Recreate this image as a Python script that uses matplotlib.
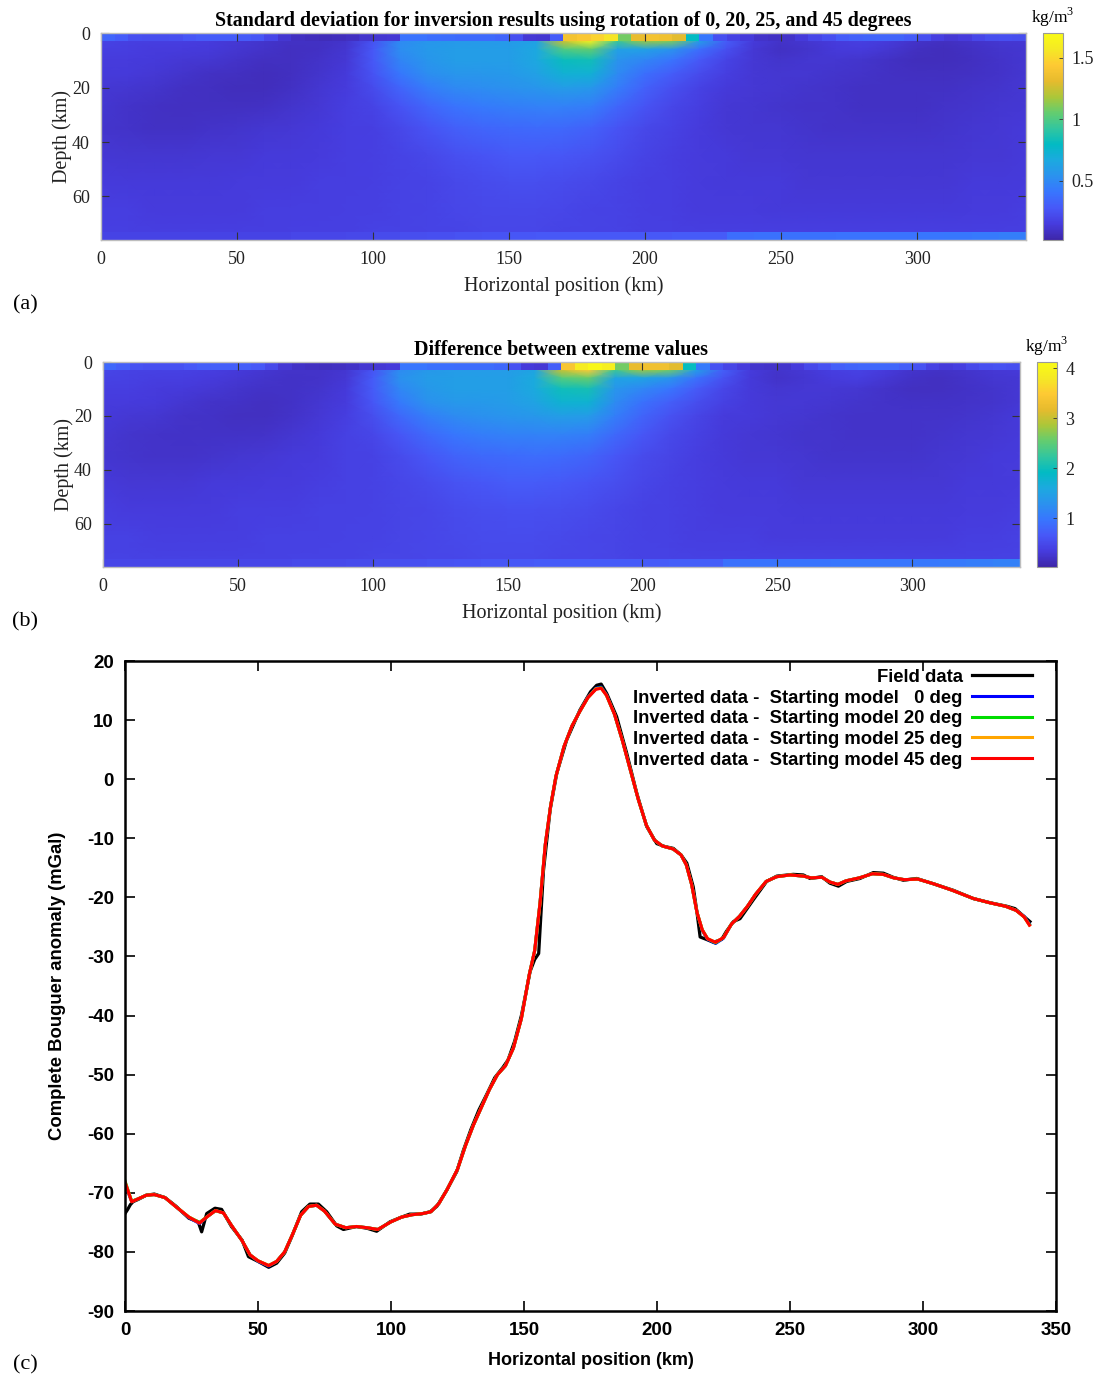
import numpy as np
import matplotlib
matplotlib.use('Agg')
import matplotlib.pyplot as plt
from matplotlib.colors import LinearSegmentedColormap

plt.rcParams['axes.unicode_minus'] = False

# parula colour table (sampled)
parula = LinearSegmentedColormap.from_list('parula', [
    (0.2422, 0.1504, 0.6603), (0.2751, 0.2342, 0.8710), (0.2795, 0.3447, 0.9717),
    (0.2206, 0.4603, 0.9973), (0.1687, 0.5703, 0.9359), (0.1113, 0.6635, 0.8763),
    (0.0067, 0.7312, 0.7660), (0.1938, 0.7758, 0.6251), (0.3909, 0.8029, 0.4354),
    (0.6720, 0.7793, 0.2227), (0.9035, 0.7330, 0.1774), (0.9952, 0.7893, 0.2028),
    (0.9597, 0.9135, 0.1423), (0.9769, 0.9839, 0.0805)])

# model grid (km)
x_nodes = np.arange(0, 341, 10)
depth_nodes = [3, 6, 10, 15, 20, 27, 35, 45, 55, 65, 73]
top_edges = np.arange(0, 346, 5)
bottom_edges = np.arange(0, 351, 10)

# standard deviation (kg/m3)
std_top = [0.34, 0.30, 0.24, 0.23, 0.23, 0.24, 0.27, 0.29, 0.30, 0.30, 0.29, 0.27, 0.20, 0.12, 0.08, 0.07, 0.06,
           0.07, 0.08, 0.11, 0.12, 0.13, 0.40, 0.40, 0.38, 0.37, 0.36, 0.36, 0.36, 0.34, 0.24, 0.13, 0.12, 0.30,
           1.38, 1.42, 1.48, 1.55, 1.08, 1.32, 1.38, 1.36, 1.30, 0.80, 0.42, 0.24, 0.18, 0.14, 0.10, 0.09, 0.10,
           0.14, 0.20, 0.24, 0.30, 0.32, 0.33, 0.34, 0.33, 0.30, 0.24, 0.16, 0.13, 0.15, 0.20, 0.23, 0.24, 0.23, 0.22]
std_body = [
    [0.19, 0.17, 0.16, 0.16, 0.15, 0.13, 0.11, 0.09, 0.09, 0.11, 0.25, 0.50, 0.56, 0.58, 0.58, 0.58, 0.62, 1.25,
     1.62, 0.95, 1.15, 1.10, 0.60, 0.30, 0.14, 0.10, 0.12, 0.15, 0.17, 0.14, 0.10, 0.08, 0.10, 0.12, 0.13],
    [0.17, 0.16, 0.15, 0.15, 0.14, 0.12, 0.10, 0.08, 0.09, 0.12, 0.28, 0.52, 0.58, 0.60, 0.60, 0.60, 0.66, 1.00,
     1.05, 0.62, 0.62, 0.55, 0.38, 0.24, 0.13, 0.09, 0.11, 0.14, 0.15, 0.12, 0.08, 0.07, 0.09, 0.11, 0.12],
    [0.15, 0.15, 0.14, 0.13, 0.12, 0.10, 0.08, 0.08, 0.10, 0.13, 0.28, 0.48, 0.56, 0.60, 0.60, 0.60, 0.66, 0.82,
     0.84, 0.55, 0.48, 0.40, 0.28, 0.19, 0.13, 0.11, 0.12, 0.12, 0.11, 0.09, 0.07, 0.07, 0.08, 0.10, 0.12],
    [0.14, 0.14, 0.13, 0.11, 0.09, 0.08, 0.07, 0.08, 0.11, 0.14, 0.26, 0.42, 0.52, 0.56, 0.57, 0.58, 0.62, 0.72,
     0.72, 0.50, 0.38, 0.30, 0.22, 0.16, 0.13, 0.12, 0.12, 0.11, 0.10, 0.09, 0.08, 0.08, 0.09, 0.10, 0.12],
    [0.13, 0.12, 0.11, 0.09, 0.08, 0.07, 0.07, 0.09, 0.12, 0.15, 0.22, 0.34, 0.44, 0.50, 0.52, 0.54, 0.56, 0.60,
     0.58, 0.44, 0.32, 0.24, 0.18, 0.14, 0.13, 0.12, 0.11, 0.10, 0.09, 0.09, 0.09, 0.09, 0.10, 0.11, 0.13],
    [0.12, 0.10, 0.09, 0.08, 0.08, 0.08, 0.09, 0.11, 0.13, 0.16, 0.19, 0.26, 0.34, 0.40, 0.43, 0.45, 0.46, 0.46,
     0.44, 0.34, 0.26, 0.20, 0.16, 0.13, 0.12, 0.11, 0.10, 0.10, 0.09, 0.09, 0.09, 0.10, 0.11, 0.12, 0.13],
    [0.11, 0.10, 0.09, 0.09, 0.10, 0.11, 0.12, 0.13, 0.14, 0.16, 0.17, 0.21, 0.26, 0.31, 0.34, 0.35, 0.36, 0.35,
     0.32, 0.26, 0.21, 0.18, 0.15, 0.13, 0.12, 0.12, 0.11, 0.10, 0.10, 0.10, 0.10, 0.11, 0.12, 0.13, 0.14],
    [0.13, 0.12, 0.12, 0.12, 0.13, 0.13, 0.14, 0.14, 0.15, 0.16, 0.17, 0.19, 0.21, 0.24, 0.26, 0.28, 0.28, 0.27,
     0.25, 0.22, 0.19, 0.16, 0.15, 0.14, 0.13, 0.13, 0.12, 0.12, 0.12, 0.12, 0.12, 0.12, 0.13, 0.13, 0.14],
    [0.15, 0.14, 0.14, 0.14, 0.14, 0.15, 0.15, 0.15, 0.16, 0.16, 0.17, 0.18, 0.19, 0.21, 0.22, 0.23, 0.23, 0.22,
     0.21, 0.19, 0.17, 0.16, 0.15, 0.14, 0.14, 0.14, 0.13, 0.13, 0.13, 0.13, 0.13, 0.13, 0.14, 0.14, 0.15],
    [0.16, 0.16, 0.15, 0.15, 0.15, 0.15, 0.16, 0.16, 0.16, 0.17, 0.17, 0.18, 0.19, 0.20, 0.21, 0.21, 0.21, 0.20,
     0.19, 0.18, 0.17, 0.16, 0.15, 0.15, 0.15, 0.14, 0.14, 0.14, 0.14, 0.14, 0.14, 0.14, 0.15, 0.15, 0.16],
    [0.17, 0.17, 0.16, 0.16, 0.16, 0.16, 0.16, 0.17, 0.17, 0.17, 0.18, 0.18, 0.19, 0.19, 0.20, 0.20, 0.20, 0.19,
     0.19, 0.18, 0.17, 0.17, 0.16, 0.16, 0.16, 0.16, 0.16, 0.16, 0.16, 0.16, 0.16, 0.16, 0.16, 0.16, 0.17],
]
std_bottom = [0.19, 0.19, 0.19, 0.19, 0.19, 0.19, 0.19, 0.20, 0.20, 0.21, 0.22, 0.23, 0.24, 0.25, 0.26, 0.27, 0.28,
              0.28, 0.28, 0.28, 0.28, 0.29, 0.29, 0.38, 0.39, 0.39, 0.39, 0.40, 0.40, 0.40, 0.41, 0.42, 0.43, 0.45, 0.48]

# difference between extreme values (kg/m3)
diff_top = [0.83, 0.73, 0.59, 0.56, 0.56, 0.59, 0.66, 0.71, 0.73, 0.73, 0.71, 0.66, 0.49, 0.29, 0.20, 0.17, 0.15,
            0.17, 0.20, 0.27, 0.29, 0.32, 0.98, 0.98, 0.93, 0.90, 0.88, 0.88, 0.88, 0.83, 0.59, 0.32, 0.29, 0.73,
            3.40, 3.85, 4.05, 3.90, 2.60, 3.20, 3.30, 3.30, 3.15, 1.95, 1.02, 0.59, 0.44, 0.34, 0.24, 0.22, 0.24,
            0.34, 0.49, 0.59, 0.73, 0.78, 0.81, 0.83, 0.81, 0.73, 0.59, 0.39, 0.32, 0.37, 0.49, 0.56, 0.59, 0.56, 0.54]
diff_body = [
    [0.46, 0.41, 0.39, 0.39, 0.37, 0.32, 0.27, 0.22, 0.22, 0.27, 0.61, 1.22, 1.37, 1.42, 1.42, 1.42, 1.51, 3.00,
     3.50, 2.30, 2.80, 2.60, 1.46, 0.73, 0.34, 0.24, 0.29, 0.37, 0.41, 0.34, 0.24, 0.20, 0.24, 0.29, 0.32],
    [0.41, 0.39, 0.37, 0.37, 0.34, 0.29, 0.24, 0.20, 0.22, 0.29, 0.68, 1.27, 1.42, 1.46, 1.46, 1.46, 1.61, 2.44,
     2.56, 1.51, 1.51, 1.34, 0.93, 0.59, 0.32, 0.22, 0.27, 0.34, 0.37, 0.29, 0.20, 0.17, 0.22, 0.27, 0.29],
    [0.37, 0.37, 0.34, 0.32, 0.29, 0.24, 0.20, 0.20, 0.24, 0.32, 0.68, 1.17, 1.37, 1.46, 1.46, 1.46, 1.61, 2.00,
     2.05, 1.34, 1.17, 0.98, 0.68, 0.46, 0.32, 0.27, 0.29, 0.29, 0.27, 0.22, 0.17, 0.17, 0.20, 0.24, 0.29],
    [0.34, 0.34, 0.32, 0.27, 0.22, 0.20, 0.17, 0.20, 0.27, 0.34, 0.63, 1.02, 1.27, 1.37, 1.39, 1.42, 1.51, 1.76,
     1.76, 1.22, 0.93, 0.73, 0.54, 0.39, 0.32, 0.29, 0.29, 0.27, 0.24, 0.22, 0.20, 0.20, 0.22, 0.24, 0.29],
    [0.32, 0.29, 0.27, 0.22, 0.20, 0.17, 0.17, 0.22, 0.29, 0.37, 0.54, 0.83, 1.07, 1.22, 1.27, 1.32, 1.37, 1.46,
     1.42, 1.07, 0.78, 0.59, 0.44, 0.34, 0.32, 0.29, 0.27, 0.24, 0.22, 0.22, 0.22, 0.22, 0.24, 0.27, 0.32],
    [0.29, 0.24, 0.22, 0.20, 0.20, 0.20, 0.22, 0.27, 0.32, 0.39, 0.46, 0.63, 0.83, 0.98, 1.05, 1.10, 1.12, 1.12,
     1.07, 0.83, 0.63, 0.49, 0.39, 0.32, 0.29, 0.27, 0.24, 0.24, 0.22, 0.22, 0.22, 0.24, 0.27, 0.29, 0.32],
    [0.27, 0.24, 0.22, 0.22, 0.24, 0.27, 0.29, 0.32, 0.34, 0.39, 0.41, 0.51, 0.63, 0.76, 0.83, 0.85, 0.88, 0.85,
     0.78, 0.63, 0.51, 0.44, 0.37, 0.32, 0.29, 0.29, 0.27, 0.24, 0.24, 0.24, 0.24, 0.27, 0.29, 0.32, 0.34],
    [0.32, 0.29, 0.29, 0.29, 0.32, 0.32, 0.34, 0.34, 0.37, 0.39, 0.41, 0.46, 0.51, 0.59, 0.63, 0.68, 0.68, 0.66,
     0.61, 0.54, 0.46, 0.39, 0.37, 0.34, 0.32, 0.32, 0.29, 0.29, 0.29, 0.29, 0.29, 0.29, 0.32, 0.32, 0.34],
    [0.37, 0.34, 0.34, 0.34, 0.34, 0.37, 0.37, 0.37, 0.39, 0.39, 0.41, 0.44, 0.46, 0.51, 0.54, 0.56, 0.56, 0.54,
     0.51, 0.46, 0.41, 0.39, 0.37, 0.34, 0.34, 0.34, 0.32, 0.32, 0.32, 0.32, 0.32, 0.32, 0.34, 0.34, 0.37],
    [0.39, 0.39, 0.37, 0.37, 0.37, 0.37, 0.39, 0.39, 0.39, 0.41, 0.41, 0.44, 0.46, 0.49, 0.51, 0.51, 0.51, 0.49,
     0.46, 0.44, 0.41, 0.39, 0.37, 0.37, 0.37, 0.34, 0.34, 0.34, 0.34, 0.34, 0.34, 0.34, 0.37, 0.37, 0.39],
    [0.41, 0.41, 0.39, 0.39, 0.39, 0.39, 0.39, 0.41, 0.41, 0.41, 0.44, 0.44, 0.46, 0.46, 0.49, 0.49, 0.49, 0.46,
     0.46, 0.44, 0.41, 0.41, 0.39, 0.39, 0.39, 0.39, 0.39, 0.39, 0.39, 0.39, 0.39, 0.39, 0.39, 0.39, 0.41],
]
diff_bottom = [0.46, 0.46, 0.46, 0.46, 0.46, 0.46, 0.46, 0.49, 0.49, 0.51, 0.54, 0.56, 0.59, 0.61, 0.63, 0.66, 0.68,
               0.68, 0.68, 0.68, 0.68, 0.71, 0.71, 0.93, 0.95, 0.95, 0.95, 0.98, 0.98, 0.98, 1.00, 1.02, 1.05, 1.10, 1.17]

# gravity profile (mGal)
field_x = [0, 1, 2, 3, 5, 8, 11, 15, 19, 24, 27.5, 28.8, 30.7, 33.8, 36.3, 40, 44, 46.4, 50, 54, 57, 60, 62.7,
           66.4, 69.5, 72.7, 75.8, 79.6, 82.1, 87, 91, 94.6, 99.6, 103.4, 107, 111, 114.7, 117.2, 121, 124.7,
           127.2, 130, 133, 136, 139, 142, 144, 146.5, 149, 151, 152.3, 154, 155.5, 157.3, 159.8, 162.3, 166, 171,
           175, 177.3, 179, 181.1, 184.8, 188.6, 192.4, 196.1, 199.9, 203, 206.1, 209, 211.2, 213.6, 215, 216.2,
           218.5, 221.2, 224.3, 226, 228.7, 231.2, 236.2, 241.2, 245, 251.2, 255, 257.5, 261.9, 265, 268.2, 271.3,
           276.3, 281.3, 285.1, 288.8, 292.6, 297.6, 303.9, 311.4, 318.9, 325.2, 331.5, 334.6, 337.1, 340.2]
field_y = [-73.5, -72.8, -72.0, -71.5, -71.1, -70.4, -70.2, -70.8, -72.2, -74.3, -74.9, -76.6, -73.5, -72.6,
           -72.8, -75.7, -78.0, -80.8, -81.6, -82.6, -81.9, -80.2, -77.4, -73.2, -71.9, -71.9, -73.2, -75.6,
           -76.2, -75.7, -76.0, -76.5, -74.9, -74.2, -73.6, -73.6, -73.2, -72.3, -69.5, -66.4, -62.8, -59.3,
           -56.0, -53.3, -50.5, -48.8, -47.5, -44.3, -40.0, -35.5, -32.5, -30.5, -29.5, -15.5, -5.2, 1.0, 6.6,
           11.7, 14.8, 15.9, 16.1, 14.5, 10.6, 4.4, -2.4, -8.0, -10.9, -11.4, -11.7, -12.8, -14.2, -18.2, -22.5,
           -26.7, -27.1, -27.6, -27.1, -25.8, -24.1, -23.6, -20.4, -17.3, -16.4, -16.1, -16.2, -16.8, -16.5,
           -17.6, -18.1, -17.3, -16.8, -15.8, -15.9, -16.6, -17.1, -16.8, -17.7, -18.8, -20.2, -20.9, -21.5,
           -21.9, -22.9, -24.1]

inv_x = [0, 1, 2.5, 5, 8, 11, 15, 19, 24, 28, 31, 34, 37, 40, 44, 47, 50, 54, 57, 60, 63, 66, 69, 72, 75, 79,
         83, 87, 91, 95, 100, 104, 108, 112, 115, 118, 121, 125, 128, 131, 134, 137, 140, 143, 146, 149, 152, 154,
         156, 158, 160, 162, 165, 168, 171, 174, 177, 179, 181, 184, 187, 190, 193, 196, 199, 202, 206, 209, 211,
         213, 215, 217, 219, 222, 225, 228, 231, 234, 237, 241, 245, 250, 255, 258, 262, 265, 268, 271, 276, 281,
         285, 289, 293, 298, 304, 311, 319, 325, 331, 335, 338, 340]
inv_0 = [-68.6, -69.7, -71.5, -71.0, -70.4, -70.3, -70.8, -72.3, -74.2, -75.2, -74.0, -73.0, -73.4, -75.5, -78.1,
         -80.5, -81.6, -82.4, -81.6, -80.0, -77.0, -73.8, -72.3, -72.1, -73.1, -75.3, -75.9, -75.7, -75.9, -76.2,
         -74.9, -74.1, -73.7, -73.5, -73.2, -71.8, -69.5, -66.0, -62.0, -58.5, -55.5, -52.5, -50.0, -48.5, -45.5,
         -40.5, -33.0, -29.0, -21.0, -11.0, -4.5, 0.5, 5.5, 9.0, 11.5, 13.9, 15.4, 15.6, 14.3, 11.0, 6.5, 1.5,
         -3.5, -7.8, -10.3, -11.3, -11.8, -12.8, -14.5, -17.8, -22.5, -25.6, -27.1, -27.8, -26.9, -24.5, -23.2,
         -21.5, -19.5, -17.3, -16.5, -16.2, -16.4, -16.7, -16.6, -17.4, -17.8, -17.2, -16.7, -16.0, -16.1,
         -16.7, -17.0, -16.9, -17.7, -18.8, -20.2, -20.9, -21.5, -22.2, -23.2, -24.5]
inv_20 = [-68.0, -69.4, -71.4, -71.0, -70.4, -70.3, -70.8, -72.3, -74.1, -75.0, -74.0, -73.0, -73.4, -75.5,
          -78.1, -80.5, -81.5, -82.3, -81.6, -80.0, -77.0, -73.8, -72.3, -72.1, -73.1, -75.3, -75.9, -75.7,
          -75.9, -76.2, -74.9, -74.1, -73.7, -73.5, -73.2, -71.8, -69.5, -66.0, -62.0, -58.5, -55.5, -52.5,
          -50.0, -48.5, -45.5, -40.5, -33.0, -29.0, -21.0, -11.0, -4.5, 0.5, 5.5, 9.0, 11.5, 13.8, 15.3, 15.5,
          14.2, 11.0, 6.5, 1.5, -3.5, -7.8, -10.3, -11.3, -11.8, -12.8, -14.5, -17.8, -22.5, -25.5, -27.0,
          -27.7, -26.8, -24.5, -23.2, -21.5, -19.5, -17.3, -16.5, -16.2, -16.4, -16.7, -16.6, -17.4, -17.8,
          -17.2, -16.7, -16.0, -16.1, -16.7, -17.0, -16.9, -17.7, -18.8, -20.2, -20.9, -21.5, -22.2, -23.3, -24.6]
inv_25 = [-68.3, -69.5, -71.5, -71.0, -70.4, -70.3, -70.8, -72.3, -74.1, -75.1, -74.0, -73.0, -73.4, -75.5,
          -78.1, -80.5, -81.5, -82.3, -81.6, -80.0, -77.0, -73.8, -72.3, -72.1, -73.1, -75.3, -75.9, -75.7,
          -75.9, -76.2, -74.9, -74.1, -73.7, -73.5, -73.2, -71.8, -69.5, -66.0, -62.0, -58.5, -55.5, -52.5,
          -50.0, -48.5, -45.5, -40.5, -33.0, -29.0, -21.0, -11.0, -4.5, 0.5, 5.5, 9.0, 11.5, 13.8, 15.3, 15.4,
          14.2, 11.0, 6.5, 1.5, -3.5, -7.8, -10.3, -11.3, -11.8, -12.8, -14.5, -17.8, -22.5, -25.5, -27.0,
          -27.6, -26.8, -24.5, -23.2, -21.5, -19.5, -17.3, -16.5, -16.2, -16.4, -16.7, -16.6, -17.4, -17.8,
          -17.2, -16.7, -16.0, -16.1, -16.7, -17.0, -16.9, -17.7, -18.8, -20.2, -20.9, -21.5, -22.2, -23.3, -24.7]
inv_45 = [-68.2, -69.5, -71.5, -71.0, -70.4, -70.3, -70.8, -72.3, -74.1, -75.1, -74.0, -73.0, -73.4, -75.5,
          -78.1, -80.5, -81.5, -82.3, -81.6, -80.0, -77.0, -73.8, -72.3, -72.1, -73.1, -75.3, -75.9, -75.7,
          -75.9, -76.2, -74.9, -74.1, -73.7, -73.5, -73.2, -71.8, -69.5, -66.0, -62.0, -58.5, -55.5, -52.5,
          -50.0, -48.5, -45.5, -40.5, -33.0, -29.0, -21.0, -11.0, -4.5, 0.5, 5.5, 9.0, 11.5, 13.8, 15.2, 15.4,
          14.2, 11.0, 6.5, 1.5, -3.5, -7.8, -10.3, -11.3, -11.8, -12.8, -14.5, -17.8, -22.5, -25.5, -27.0,
          -27.6, -26.8, -24.5, -23.2, -21.5, -19.5, -17.3, -16.5, -16.2, -16.4, -16.7, -16.6, -17.4, -17.8,
          -17.2, -16.7, -16.0, -16.1, -16.7, -17.0, -16.9, -17.7, -18.8, -20.2, -20.9, -21.5, -22.2, -23.3, -24.7]

SERIF = 'Liberation Serif'
SANS = 'Liberation Sans'

fig = plt.figure(figsize=(10.94, 13.78), dpi=100)


def section(pos, cpos, body, top, bottom, vmin, vmax, cticks, title):
    ax = fig.add_axes(pos)
    kw = dict(cmap=parula, vmin=vmin, vmax=vmax)
    mesh = ax.pcolormesh(x_nodes, depth_nodes, body, shading='gouraud', **kw)
    ax.pcolormesh(top_edges, [0, 3], [top], shading='flat', edgecolors='none', antialiased=False, **kw)
    ax.pcolormesh(bottom_edges, [73, 76], [bottom], shading='flat', edgecolors='none', antialiased=False, **kw)
    ax.set_xlim(0, 340)
    ax.set_ylim(76, 0)
    ax.set_xticks(range(0, 301, 50))
    ax.set_yticks([0, 20, 40, 60])
    ax.tick_params(direction='in', length=6, width=0.8, color='#333333', labelcolor='#222222',
                   top=True, right=True, pad=8, labelsize=13)
    for lab in ax.get_xticklabels() + ax.get_yticklabels():
        lab.set_fontfamily(SERIF)
    for s in ax.spines.values():
        s.set_color('#bdbdbd')
        s.set_linewidth(1.0)
    ax.set_xlabel('Horizontal position (km)', fontfamily=SERIF, fontsize=14.5, color='#222222', labelpad=6)
    ax.set_ylabel('Depth (km)', fontfamily=SERIF, fontsize=14.5, color='#222222', labelpad=0)
    ax.set_title(title, fontfamily=SERIF, fontweight='bold', fontsize=14.4, pad=5)

    cax = fig.add_axes(cpos)
    cb = fig.colorbar(mesh, cax=cax, ticks=cticks)
    cb.outline.set_edgecolor('#9a9a9a')
    cb.outline.set_linewidth(0.8)
    cax.tick_params(direction='in', length=3, width=0.6, color='#333333', labelsize=13, labelcolor='#222222', pad=6)
    cb.set_ticklabels([f'{t:g}' for t in cticks])
    for lab in cax.get_yticklabels():
        lab.set_fontfamily(SERIF)
    cax.text(0.5, 1.02, 'kg/m$^{\\mathregular{3}}$', transform=cax.transAxes, ha='center', va='bottom',
             fontfamily=SERIF, fontsize=12.5)
    return ax


section([0.0923, 0.8258, 0.8455, 0.1502], [0.9534, 0.8258, 0.0183, 0.1502],
        std_body, std_top, std_bottom, 0.02, 1.70, [0.5, 1, 1.5],
        'Standard deviation for inversion results using rotation of 0, 20, 25, and 45 degrees')
section([0.0941, 0.5885, 0.8382, 0.1488], [0.9479, 0.5885, 0.0183, 0.1488],
        diff_body, diff_top, diff_bottom, 0.02, 4.12, [1, 2, 3, 4],
        'Difference between extreme values')

# gravity profile
ax = fig.add_axes([0.1143, 0.0486, 0.8510, 0.4717])
ax.plot(field_x, field_y, color='black', lw=2.3, label='Field data')
ax.plot(inv_x, inv_0, color='#0000ff', lw=2.2, label='Inverted data -  Starting model   0 deg')
ax.plot(inv_x, inv_20, color='#00dd00', lw=2.2, label='Inverted data -  Starting model 20 deg')
ax.plot(inv_x, inv_25, color='#ffa500', lw=2.2, label='Inverted data -  Starting model 25 deg')
ax.plot(inv_x, inv_45, color='#ff0000', lw=2.2, label='Inverted data -  Starting model 45 deg')
ax.set_xlim(0, 350)
ax.set_ylim(-90, 20)
ax.set_xticks(range(0, 351, 50))
ax.set_yticks(range(-90, 21, 10))
ax.tick_params(direction='in', length=7, width=1.2, top=True, right=True, labelsize=13.5, pad=8)
for lab in ax.get_xticklabels() + ax.get_yticklabels():
    lab.set_fontfamily(SANS)
    lab.set_fontweight('bold')
for s in ax.spines.values():
    s.set_linewidth(1.8)
ax.set_xlabel('Horizontal position (km)', fontfamily=SANS, fontweight='bold', fontsize=13, labelpad=9)
ax.set_ylabel('Complete Bouguer anomaly (mGal)', fontfamily=SANS, fontweight='bold', fontsize=13.3, labelpad=15)
ax.legend(loc='upper right', bbox_to_anchor=(0.974, 0.988), frameon=False, markerfirst=False,
          handlelength=3.25, handletextpad=0.5, labelspacing=0.2, borderpad=0, borderaxespad=0,
          prop=dict(family=SANS, weight='bold', size=13.3))

for tag, yy in (('(a)', 0.7787), ('(b)', 0.5486), ('(c)', 0.0094)):
    fig.text(0.023, yy, tag, fontfamily=SERIF, fontsize=16, ha='center', va='center')

fig.savefig('out.png', dpi=100)
